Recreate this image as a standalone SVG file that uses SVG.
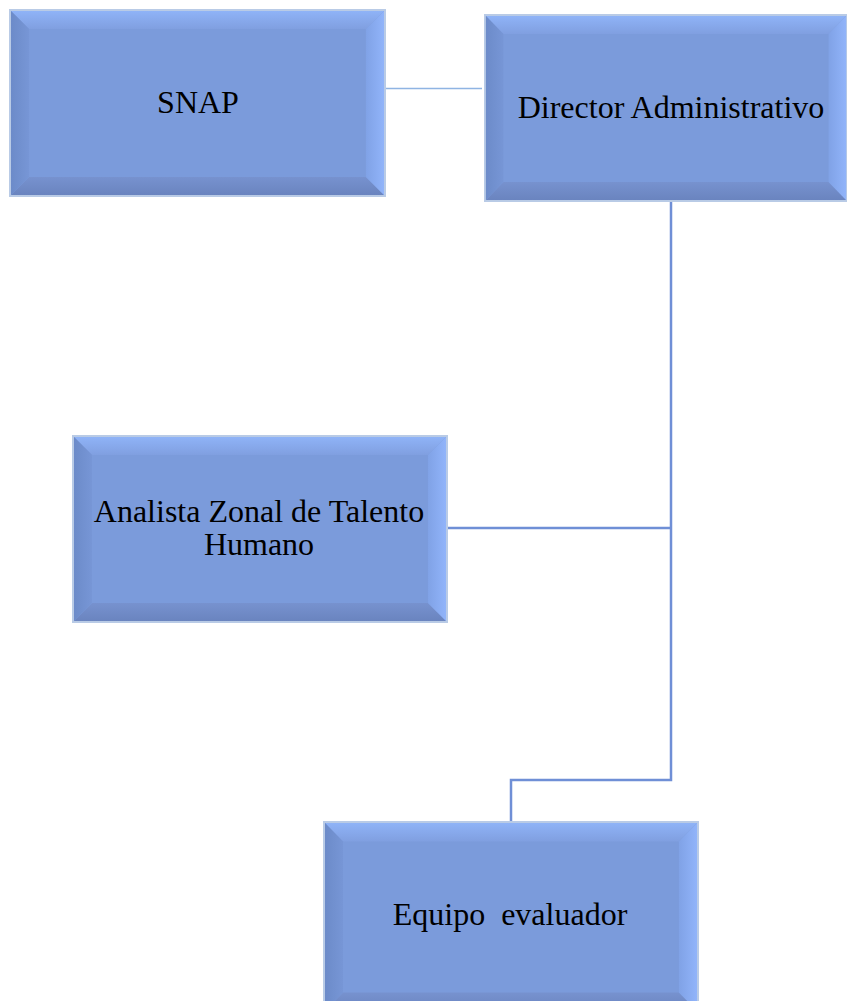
<svg xmlns="http://www.w3.org/2000/svg" xmlns:xlink="http://www.w3.org/1999/xlink" width="847" height="1001" viewBox="0 0 847 1001">
  <style>
    .label { font-family: "Liberation Serif", "Times New Roman", serif; font-size: 32px; fill: #000; text-anchor: middle; }
    .link { fill: none; stroke: #6f8fd6; stroke-width: 2.5; }
    .link-light { fill: none; stroke: #8fb4e3; stroke-width: 1.5; }
  </style>
  <defs>
    <linearGradient id="gTop" x1="0" y1="0" x2="0" y2="1">
      <stop offset="0" stop-color="#8fb3f7"/>
      <stop offset="1" stop-color="#809fe0"/>
    </linearGradient>
    <linearGradient id="gBottom" x1="0" y1="0" x2="0" y2="1">
      <stop offset="0" stop-color="#7792cf"/>
      <stop offset="1" stop-color="#6a84bf"/>
    </linearGradient>
    <linearGradient id="gLeft" x1="0" y1="0" x2="1" y2="0">
      <stop offset="0" stop-color="#6c8bc9"/>
      <stop offset="1" stop-color="#7796d6"/>
    </linearGradient>
    <linearGradient id="gRight" x1="0" y1="0" x2="1" y2="0">
      <stop offset="0" stop-color="#80a2e6"/>
      <stop offset="1" stop-color="#91b4fa"/>
    </linearGradient>
    <!-- bevelled box, 375 x 187 -->
    <symbol id="bevel" viewBox="0 0 375 187" preserveAspectRatio="none">
      <rect x="0" y="0" width="375" height="187" fill="#b9cbe6"/>
      <rect x="2" y="2" width="371" height="183" fill="#7b9bdb"/>
      <polygon points="2,2 373,2 355,20 20,20" fill="url(#gTop)"/>
      <polygon points="2,185 373,185 355,167 20,167" fill="url(#gBottom)"/>
      <polygon points="2,2 20,20 20,167 2,185" fill="url(#gLeft)"/>
      <polygon points="373,2 355,20 355,167 373,185" fill="url(#gRight)"/>
    </symbol>
  </defs>

  <g id="connectors">
    <line class="link-light" x1="385" y1="88.5" x2="482" y2="88.5"/>
    <polyline class="link" points="671,200 671,780 511,780 511,822"/>
    <line class="link" x1="446" y1="528" x2="671" y2="528"/>
  </g>

  <g id="node-snap">
    <use xlink:href="#bevel" x="9" y="9" width="377" height="188"/>
    <text class="label" x="198" y="113">SNAP</text>
  </g>

  <g id="node-director">
    <use xlink:href="#bevel" x="484" y="14" width="364" height="188"/>
    <text class="label" x="671" y="118">Director Administrativo</text>
  </g>

  <g id="node-analista">
    <use xlink:href="#bevel" x="72" y="435" width="376" height="188"/>
    <text class="label" x="259" y="522">Analista Zonal de Talento</text>
    <text class="label" x="259" y="555">Humano</text>
  </g>

  <g id="node-equipo">
    <use xlink:href="#bevel" x="323" y="821" width="376" height="192"/>
    <text class="label" x="510" y="925" xml:space="preserve">Equipo  evaluador</text>
  </g>
</svg>
